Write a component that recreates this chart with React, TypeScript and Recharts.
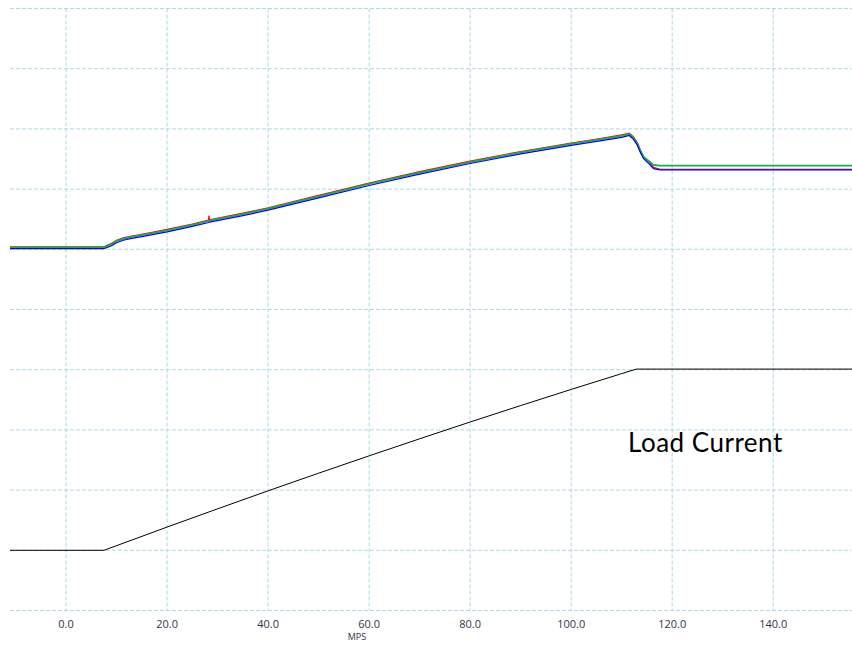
import { LineChart, Line, XAxis, YAxis, CartesianGrid } from "recharts";

// x positions (MPS) shared by the three upper traces
const upperX = [-11.1, 1.2, 7.5, 9.0, 10.0, 11.3, 13, 15, 20, 25, 28.2, 28.3, 28.4, 35, 40, 50, 60, 70, 80, 90, 100, 105.7, 110, 111.5, 112.3, 113.1, 113.7, 114.3, 115.3, 116.3, 117.6, 155.6];
const redY = [6.04, 6.04, 6.04, 6.10, 6.15, 6.19, 6.22, 6.25, 6.33, 6.42, 6.485, 6.56, 6.49, 6.60, 6.69, 6.895, 7.10, 7.29, 7.465, 7.625, 7.765, 7.84, 7.90, 7.93, 7.87, 7.77, 7.65, 7.54, 7.46, 7.36, 7.33, 7.33];
const greenY = [6.03, 6.03, 6.03, 6.085, 6.135, 6.175, 6.205, 6.235, 6.315, 6.405, 6.47, 6.475, 6.475, 6.585, 6.675, 6.88, 7.085, 7.275, 7.45, 7.61, 7.75, 7.825, 7.885, 7.915, 7.855, 7.755, 7.64, 7.54, 7.47, 7.40, 7.39, 7.39];
const blueY = [6.01, 6.01, 6.01, 6.06, 6.11, 6.15, 6.18, 6.21, 6.29, 6.38, 6.445, 6.45, 6.45, 6.56, 6.65, 6.855, 7.06, 7.25, 7.425, 7.585, 7.725, 7.80, 7.86, 7.89, 7.83, 7.73, 7.61, 7.51, 7.43, 7.34, 7.32, 7.32];

// load current trace
const loadX = [-11.1, 7.5, 20, 30, 40, 50, 60, 70, 80, 90, 100, 110, 112.9, 155.6];
const loadY = [1.0, 1.0, 1.386, 1.689, 1.988, 2.281, 2.569, 2.852, 3.131, 3.404, 3.672, 3.935, 4.01, 4.01];

const xTicks = [0, 20, 40, 60, 80, 100, 120, 140];
const yTicks = [0, 1, 2, 3, 4, 5, 6, 7, 8, 9, 10];

const upperData = upperX.map((x, i) => ({ x, red: redY[i], green: greenY[i], blue: blueY[i] }));
const loadData = loadX.map((x, i) => ({ x, load: loadY[i] }));

export default function App() {
  return (
    <div style={{ position: "absolute", left: 0, top: 0, width: 852, height: 645, background: "#fff" }}>
      <LineChart width={852} height={645} margin={{ top: 8.5, right: 0, left: 10, bottom: 0 }}>
        <CartesianGrid stroke="#add8e6" strokeDasharray="4 2" syncWithTicks />
        <XAxis
          type="number"
          dataKey="x"
          domain={[-11.1, 155.6]}
          ticks={xTicks}
          allowDataOverflow
          axisLine={false}
          tickLine={false}
          tickMargin={4}
          height={34.5}
          tickFormatter={(v: number) => v.toFixed(1)}
          tick={{ fill: "#33334a", fontSize: 11, fontFamily: "Open Sans" }}
          label={{ value: "MPS", position: "insideBottom", offset: 5, dx: -74, fill: "#33334a", fontSize: 9, fontFamily: "Open Sans" }}
        />
        <YAxis type="number" domain={[0, 10]} ticks={yTicks} hide width={0} />
        <Line data={upperData} dataKey="red" stroke="#ff0000" strokeWidth={1.2} dot={false} isAnimationActive={false} />
        <Line data={upperData} dataKey="green" stroke="#14b04a" strokeWidth={1.8} dot={false} isAnimationActive={false} />
        <Line data={upperData} dataKey="blue" stroke="#0000ff" strokeWidth={1.2} dot={false} isAnimationActive={false} />
        <Line data={loadData} dataKey="load" stroke="#000000" strokeWidth={1} dot={false} isAnimationActive={false} />
      </LineChart>
      <div
        style={{
          position: "absolute",
          left: 628,
          top: 429,
          fontFamily: "Lato",
          fontSize: 26,
          lineHeight: "26px",
          letterSpacing: 0.5,
          color: "#000",
          whiteSpace: "nowrap",
        }}
      >
        Load Current
      </div>
    </div>
  );
}
